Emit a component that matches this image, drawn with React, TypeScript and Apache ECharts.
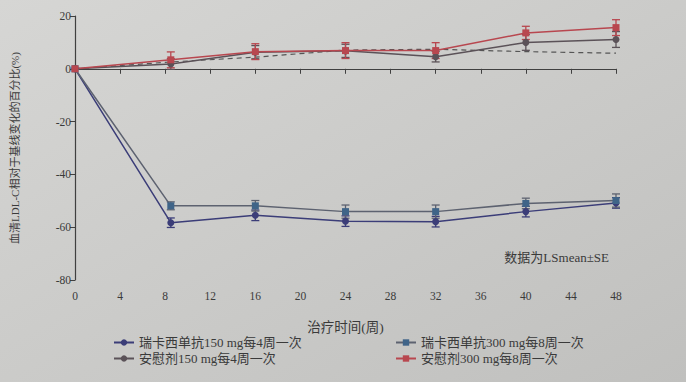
import React, { useEffect, useRef } from "react";
import * as echarts from "echarts";

const weeks = [0, 8.5, 16, 24, 32, 40, 48];
const xTicks = [0, 4, 8, 12, 16, 20, 24, 28, 32, 36, 40, 44, 48];
const seriesNames = [
  "瑞卡西单抗150 mg每4周一次",
  "瑞卡西单抗300 mg每8周一次",
  "安慰剂150 mg每4周一次",
  "安慰剂300 mg每8周一次",
];
const reca150 = [0, -58.3, -55.5, -57.7, -57.9, -54.1, -50.8];
const reca150Se = [0, 1.8, 2, 2, 2, 2, 2];
const reca300 = [0, -51.9, -51.9, -54.1, -54.1, -51.0, -49.9];
const reca300Se = [0, 1.5, 2, 2.5, 2.5, 2, 2.5];
const placebo150 = [0, 1.8, 6.3, 6.8, 4.6, 10.0, 11.1];
const placebo150Se = [0, 2, 2.5, 2.5, 2, 3, 3];
const placebo300 = [0, 3.4, 6.5, 6.9, 6.9, 13.6, 15.6];
const placebo300Se = [0, 3, 3, 3, 3, 2.5, 3];
const dashedRef = [0, 2.6, 4.4, 7.1, 7.4, 6.5, 5.9];

const FONT = "'Liberation Serif', 'Noto Sans CJK SC', serif";
const TXT = "#3a3a3a";

export default function App() {
  const ref = useRef<HTMLDivElement>(null);
  useEffect(() => {
    if (!ref.current) return;
    const chart = echarts.init(ref.current, null, { renderer: "svg" });

    const pair = (vals: number[]) => weeks.map((w, i) => [w, vals[i]]);
    const errData = (vals: number[], se: number[]) =>
      weeks.map((w, i) => [w, vals[i] - se[i], vals[i] + se[i]]).filter((_, i) => se[i] > 0);

    const errSeries = (name: string, vals: number[], se: number[], color: string) => ({
      type: "custom",
      name,
      data: errData(vals, se),
      z: 3,
      renderItem: (params: any, api: any) => {
        const x = api.value(0);
        const lo = api.coord([x, api.value(1)]);
        const hi = api.coord([x, api.value(2)]);
        const w = 4;
        const st = { stroke: color, lineWidth: 1.3 };
        return {
          type: "group",
          children: [
            { type: "line", shape: { x1: lo[0], y1: lo[1], x2: hi[0], y2: hi[1] }, style: st },
            { type: "line", shape: { x1: lo[0] - w, y1: lo[1], x2: lo[0] + w, y2: lo[1] }, style: st },
            { type: "line", shape: { x1: hi[0] - w, y1: hi[1], x2: hi[0] + w, y2: hi[1] }, style: st },
          ],
        };
      },
    });

    const lineSeries = (name: string, vals: number[], lineColor: string, markColor: string, symbol: string) => ({
      type: "line",
      name,
      data: pair(vals),
      symbol,
      symbolSize: 7,
      lineStyle: { color: lineColor, width: 1.5 },
      itemStyle: { color: markColor },
      z: 4,
    });

    const c150 = "#3b3d78";
    const c300Line = "#5d6270";
    const c300Mark = "#3f6488";
    const p150 = "#5b5258";
    const p300 = "#b8474f";

    const legendText = { color: TXT, fontSize: 13, fontFamily: FONT };

    chart.setOption({
      animation: false,
      backgroundColor: {
        type: "linear",
        x: 0, y: 0, x2: 1, y2: 1,
        colorStops: [
          { offset: 0, color: "#d6d6d4" },
          { offset: 0.5, color: "#cbcbc9" },
          { offset: 1, color: "#c0c0be" },
        ],
      },
      grid: { left: 75, top: 16, width: 541, height: 264 },
      xAxis: {
        type: "value",
        min: 0,
        max: 48,
        interval: 4,
        name: "治疗时间(周)",
        nameLocation: "middle",
        nameGap: 41,
        nameTextStyle: { color: TXT, fontSize: 13.5, fontFamily: FONT },
        axisLine: { lineStyle: { color: "#404040", width: 1.2 } },
        axisTick: { length: 5, lineStyle: { color: "#404040" } },
        axisLabel: {
          color: TXT, fontSize: 11.5, fontFamily: FONT, margin: 10,
          formatter: (v: number) => (xTicks.includes(v) ? String(v) : ""),
        },
        splitLine: { show: false },
      },
      yAxis: {
        type: "value",
        min: -80,
        max: 20,
        interval: 20,
        name: "血清LDL-C相对于基线变化的百分比(%)",
        nameLocation: "middle",
        nameGap: 55,
        nameRotate: 90,
        nameTextStyle: { color: TXT, fontSize: 11, fontFamily: FONT },
        axisLine: { show: true, lineStyle: { color: "#404040", width: 1.2 } },
        axisTick: { show: true, length: 5, lineStyle: { color: "#404040" } },
        axisLabel: { color: TXT, fontSize: 11.5, fontFamily: FONT, margin: 4 },
        splitLine: { show: false },
      },
      legend: [
        {
          data: [seriesNames[0], seriesNames[2]],
          orient: "vertical",
          left: 108,
          top: 331,
          itemGap: 3,
          itemWidth: 20,
          itemHeight: 8,
          textStyle: legendText,
        },
        {
          data: [seriesNames[1], seriesNames[3]],
          orient: "vertical",
          left: 390,
          top: 331,
          itemGap: 3,
          itemWidth: 20,
          itemHeight: 8,
          textStyle: legendText,
        },
      ],
      graphic: [
        {
          type: "text",
          right: 77,
          top: 251,
          style: { text: "数据为LSmean±SE", fill: TXT, fontSize: 13, fontFamily: FONT },
        },
      ],
      series: [
        {
          type: "line",
          name: "ref",
          data: pair(dashedRef),
          symbol: "none",
          lineStyle: { color: "#555555", width: 1.2, type: [5, 4] },
          z: 2,
        },
        lineSeries(seriesNames[0], reca150, c150, c150, "circle"),
        lineSeries(seriesNames[1], reca300, c300Line, c300Mark, "rect"),
        lineSeries(seriesNames[2], placebo150, p150, p150, "circle"),
        lineSeries(seriesNames[3], placebo300, p300, p300, "rect"),
        errSeries("e1", reca150, reca150Se, c150),
        errSeries("e2", reca300, reca300Se, c300Line),
        errSeries("e3", placebo150, placebo150Se, p150),
        errSeries("e4", placebo300, placebo300Se, p300),
      ],
    });
    return () => chart.dispose();
  }, []);
  return (
    <div
      ref={ref}
      style={{ position: "fixed", left: 0, top: 0, width: 686, height: 382 }}
    />
  );
}
